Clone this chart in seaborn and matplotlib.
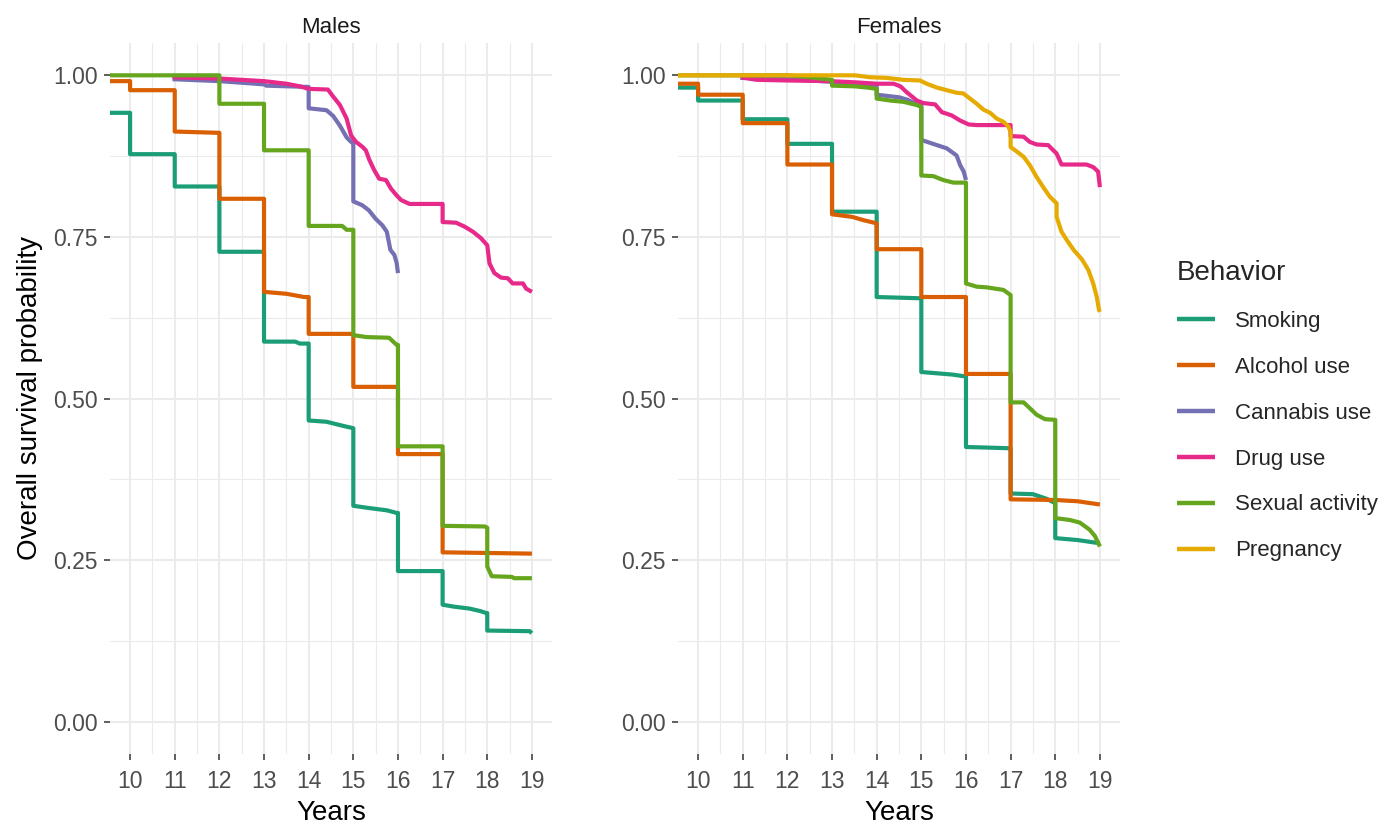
import matplotlib
matplotlib.use("Agg")
import matplotlib.pyplot as plt
from matplotlib.lines import Line2D
from matplotlib.ticker import FixedLocator, FormatStrFormatter
import seaborn as sns
import pandas as pd

# ---------------- data ----------------
behaviors = ["Smoking", "Alcohol use", "Cannabis use", "Drug use", "Sexual activity", "Pregnancy"]
colors = ["#1B9E77", "#D95F02", "#7570B3", "#E7298A", "#66A61E", "#E6AB02"]
x_ticks = [10, 11, 12, 13, 14, 15, 16, 17, 18, 19]
y_ticks = [0.0, 0.25, 0.5, 0.75, 1.0]

# Males
m_smoking_t = [9.55, 10, 10, 11, 11, 12, 12, 13, 13, 13.7, 13.8, 14, 14, 14.4, 14.75, 15, 15, 15.3, 15.75, 15.97, 16, 16, 17, 17, 17.25, 17.6, 17.85, 17.98, 18, 18, 18.95, 19]
m_smoking_s = [0.942, 0.942, 0.878, 0.878, 0.828, 0.828, 0.727, 0.727, 0.588, 0.588, 0.585, 0.585, 0.466, 0.464, 0.458, 0.454, 0.334, 0.331, 0.327, 0.323, 0.323, 0.233, 0.233, 0.181, 0.178, 0.175, 0.171, 0.168, 0.168, 0.141, 0.140, 0.137]

m_alcohol_t = [9.55, 10, 10, 11, 11, 12, 12, 13, 13, 13.5, 13.9, 14, 14, 15, 15, 16, 16, 17, 17, 19]
m_alcohol_s = [0.991, 0.991, 0.977, 0.977, 0.913, 0.911, 0.809, 0.809, 0.665, 0.662, 0.657, 0.657, 0.600, 0.600, 0.518, 0.518, 0.414, 0.414, 0.262, 0.260]

m_cannabis_t = [10.95, 12, 13, 13.05, 14, 14, 14.4, 14.55, 14.7, 14.85, 14.95, 15, 15, 15.2, 15.35, 15.5, 15.65, 15.75, 15.83, 15.92, 15.97, 16]
m_cannabis_s = [0.994, 0.991, 0.986, 0.984, 0.982, 0.949, 0.946, 0.937, 0.922, 0.904, 0.897, 0.896, 0.805, 0.799, 0.791, 0.778, 0.768, 0.758, 0.730, 0.722, 0.710, 0.694]

m_drug_t = [10.95, 12, 12.5, 13, 13.5, 13.8, 14, 14.43, 14.55, 14.7, 14.85, 14.95, 15.06, 15.21, 15.28, 15.36, 15.47, 15.58, 15.73, 15.84, 15.96, 16.07, 16.26, 17, 17, 17.3, 17.49, 17.68, 17.86, 18, 18.05, 18.16, 18.31, 18.46, 18.57, 18.8, 18.87, 19]
m_drug_s = [0.997, 0.995, 0.993, 0.991, 0.987, 0.983, 0.979, 0.978, 0.967, 0.954, 0.933, 0.907, 0.897, 0.889, 0.884, 0.869, 0.853, 0.840, 0.838, 0.825, 0.815, 0.807, 0.801, 0.801, 0.773, 0.772, 0.766, 0.758, 0.748, 0.737, 0.709, 0.694, 0.687, 0.686, 0.678, 0.678, 0.670, 0.665]

m_sexual_t = [9.55, 12, 12, 13, 13, 14, 14, 14.75, 14.85, 15, 15, 15.3, 15.8, 15.97, 16, 16, 17, 17, 17.95, 18, 18, 18.1, 18.55, 18.6, 19]
m_sexual_s = [1.0, 1.0, 0.956, 0.956, 0.884, 0.884, 0.767, 0.767, 0.761, 0.761, 0.598, 0.595, 0.594, 0.583, 0.583, 0.426, 0.426, 0.303, 0.302, 0.300, 0.240, 0.225, 0.224, 0.222, 0.222]

# Females
f_smoking_t = [9.55, 10, 10, 11, 11, 12, 12, 13, 13, 14, 14, 15, 15, 15.7, 16, 16, 17, 17, 17.5, 17.8, 18, 18, 18.5, 19]
f_smoking_s = [0.981, 0.981, 0.961, 0.961, 0.932, 0.932, 0.894, 0.894, 0.789, 0.789, 0.657, 0.655, 0.541, 0.537, 0.534, 0.425, 0.423, 0.353, 0.352, 0.345, 0.338, 0.284, 0.281, 0.276]

f_alcohol_t = [9.55, 10, 10, 11, 11, 12, 12, 13, 13, 13.45, 13.7, 14, 14, 15, 15, 16, 16, 17, 17, 18, 18.5, 19]
f_alcohol_s = [0.987, 0.987, 0.970, 0.970, 0.926, 0.926, 0.862, 0.862, 0.785, 0.781, 0.776, 0.771, 0.731, 0.731, 0.657, 0.657, 0.538, 0.538, 0.344, 0.343, 0.341, 0.336]

f_cannabis_t = [10.95, 12, 13, 13.5, 14, 14, 14.5, 14.7, 14.9, 15, 15, 15.35, 15.57, 15.79, 15.87, 15.95, 16]
f_cannabis_s = [0.996, 0.994, 0.990, 0.986, 0.983, 0.970, 0.966, 0.962, 0.955, 0.953, 0.900, 0.892, 0.887, 0.876, 0.861, 0.851, 0.838]

f_drug_t = [10.95, 11.32, 12, 12.96, 13.56, 14, 14.38, 14.53, 14.67, 14.9, 15.05, 15.31, 15.46, 15.68, 15.87, 16.06, 16.24, 17, 17, 17.29, 17.43, 17.58, 17.84, 18.03, 18.14, 18.7, 18.85, 18.96, 19]
f_drug_s = [0.997, 0.993, 0.992, 0.991, 0.989, 0.987, 0.987, 0.983, 0.974, 0.961, 0.957, 0.955, 0.943, 0.938, 0.930, 0.924, 0.923, 0.923, 0.906, 0.905, 0.897, 0.893, 0.892, 0.879, 0.862, 0.862, 0.858, 0.851, 0.827]

f_sexual_t = [9.55, 12, 12.5, 13, 13, 13.5, 13.8, 14, 14, 14.3, 14.6, 14.9, 15, 15, 15.27, 15.49, 15.72, 16, 16, 16.24, 16.46, 16.84, 17, 17, 17.29, 17.43, 17.58, 17.77, 18, 18, 18.33, 18.55, 18.77, 18.89, 19]
f_sexual_s = [1.0, 1.0, 0.997, 0.993, 0.984, 0.983, 0.981, 0.979, 0.964, 0.961, 0.959, 0.954, 0.951, 0.845, 0.844, 0.838, 0.834, 0.834, 0.678, 0.673, 0.672, 0.668, 0.660, 0.494, 0.494, 0.485, 0.475, 0.468, 0.467, 0.315, 0.312, 0.308, 0.297, 0.287, 0.271]

f_pregnancy_t = [9.55, 13.52, 13.85, 14.23, 14.6, 14.97, 15.12, 15.35, 15.57, 15.79, 15.94, 16.09, 16.24, 16.39, 16.54, 16.69, 16.84, 16.95, 17, 17, 17.14, 17.29, 17.43, 17.58, 17.73, 17.88, 18.03, 18.03, 18.14, 18.26, 18.41, 18.6, 18.74, 18.85, 18.93, 18.98, 19]
f_pregnancy_s = [1.0, 1.0, 0.997, 0.996, 0.993, 0.992, 0.987, 0.981, 0.977, 0.973, 0.972, 0.964, 0.956, 0.947, 0.942, 0.933, 0.928, 0.921, 0.912, 0.889, 0.882, 0.874, 0.861, 0.843, 0.827, 0.812, 0.802, 0.781, 0.758, 0.745, 0.730, 0.715, 0.699, 0.678, 0.657, 0.637, 0.634]

males = {
    "Smoking": (m_smoking_t, m_smoking_s),
    "Alcohol use": (m_alcohol_t, m_alcohol_s),
    "Cannabis use": (m_cannabis_t, m_cannabis_s),
    "Drug use": (m_drug_t, m_drug_s),
    "Sexual activity": (m_sexual_t, m_sexual_s),
}
females = {
    "Smoking": (f_smoking_t, f_smoking_s),
    "Alcohol use": (f_alcohol_t, f_alcohol_s),
    "Cannabis use": (f_cannabis_t, f_cannabis_s),
    "Drug use": (f_drug_t, f_drug_s),
    "Sexual activity": (f_sexual_t, f_sexual_s),
    "Pregnancy": (f_pregnancy_t, f_pregnancy_s),
}

def to_long(d):
    rows = []
    for b in behaviors:
        if b not in d:
            continue
        t, s = d[b]
        for ti, si in zip(t, s):
            rows.append({"Years": ti, "surv": si, "Behavior": b})
    return pd.DataFrame(rows)

df_m = to_long(males)
df_f = to_long(females)
palette = dict(zip(behaviors, colors))

# ---------------- style ----------------
sns.set_style("white")
plt.rcParams["font.family"] = ["Liberation Sans", "DejaVu Sans"]

W, H = 1385, 825
fig = plt.figure(figsize=(W / 100, H / 100), dpi=100)

def px_axes(left, right, top, bottom):
    return fig.add_axes([left / W, 1 - bottom / H, (right - left) / W, (bottom - top) / H])

ax_m = px_axes(110, 552, 43, 754)
ax_f = px_axes(678, 1120, 43, 754)

GRID = "#EBEBEB"
for ax, df, title in [(ax_m, df_m, "Males"), (ax_f, df_f, "Females")]:
    sns.lineplot(data=df, x="Years", y="surv", hue="Behavior",
                 hue_order=[b for b in behaviors if b in df["Behavior"].unique()],
                 palette=palette, estimator=None, sort=False, legend=False, ax=ax,
                 linewidth=3.0, solid_capstyle="butt", solid_joinstyle="round")
    ax.set_xlim(9.55, 19.45)
    ax.set_ylim(-0.05, 1.05)
    ax.xaxis.set_major_locator(FixedLocator(x_ticks))
    ax.xaxis.set_minor_locator(FixedLocator([x + 0.5 for x in range(9, 20)]))
    ax.yaxis.set_major_locator(FixedLocator(y_ticks))
    ax.yaxis.set_minor_locator(FixedLocator([0.125, 0.375, 0.625, 0.875]))
    ax.yaxis.set_major_formatter(FormatStrFormatter("%.2f"))
    ax.grid(which="major", color=GRID, linewidth=1.5)
    ax.grid(which="minor", color=GRID, linewidth=0.8)
    ax.set_axisbelow(True)
    for sp in ax.spines.values():
        sp.set_visible(False)
    ax.tick_params(which="major", length=4.3, width=1.1, color="#333333",
                   labelcolor="#4D4D4D", labelsize=16.5, bottom=True, left=True)
    ax.tick_params(axis="x", which="major", pad=7.5)
    ax.tick_params(axis="y", which="major", pad=4.5)
    ax.tick_params(which="minor", length=0)
    ax.set_title(title, fontsize=16, pad=7, color="#1A1A1A")
    ax.set_xlabel("Years", fontsize=20, labelpad=5, color="black")
    ax.set_ylabel("")

ax_m.set_ylabel("Overall survival probability", fontsize=20, labelpad=7, color="black")

handles = [Line2D([0], [0], color=c, lw=3.2, solid_capstyle="butt") for c in colors]
fig.legend(handles, behaviors, title="Behavior", loc="upper left",
           bbox_to_anchor=(1177 / W, 1 - 260 / H), frameon=False,
           fontsize=16, title_fontsize=20, handlelength=1.7, handletextpad=0.9,
           labelspacing=1.12, alignment="left", borderpad=0, borderaxespad=0)

fig.savefig("out.png", dpi=100)
